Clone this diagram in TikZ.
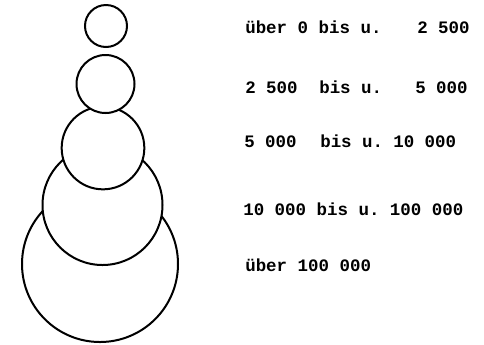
\documentclass[tikz,border=0pt]{standalone}
\usepackage{fontspec}
\setmonofont{Liberation Mono}
\begin{document}
\begin{tikzpicture}[x=0.75pt,y=-0.75pt,
  ring/.style={circle,draw=black,fill=white,line width=1.5pt,inner sep=0pt},
  lbl/.style={anchor=base west,inner sep=0pt,font=\fontsize{13.1}{15}\selectfont\ttfamily\bfseries}]
\useasboundingbox (0,0) rectangle (484,344);
% circles, largest first so the smaller ones cover the upper arcs
\node[ring,minimum size=117pt] (c5) at (100,264) {};
\node[ring,minimum size=90pt]  (c4) at (102.5,205) {};
\node[ring,minimum size=62pt]  (c3) at (103,148) {};
\node[ring,minimum size=43.5pt] (c2) at (105.5,84) {};
\node[ring,minimum size=31.5pt] (c1) at (106,26) {};
% legend
\node[lbl] (r1a) at (245,33) {über 0 bis u.};
\node[lbl] (r1b) at (417,33) {2 500};
\node[lbl] (r2a) at (245,93) {2 500};
\node[lbl] (r2b) at (319,93) {bis u.};
\node[lbl] (r2c) at (415,93) {5 000};
\node[lbl] (r3a) at (244,147) {5 000};
\node[lbl] (r3b) at (320,147) {bis u.};
\node[lbl] (r3c) at (393,147) {10 000};
\node[lbl] (r4)  at (243,215) {10 000 bis u. 100 000};
\node[lbl] (r5)  at (245,271) {über 100 000};
\end{tikzpicture}
\end{document}
